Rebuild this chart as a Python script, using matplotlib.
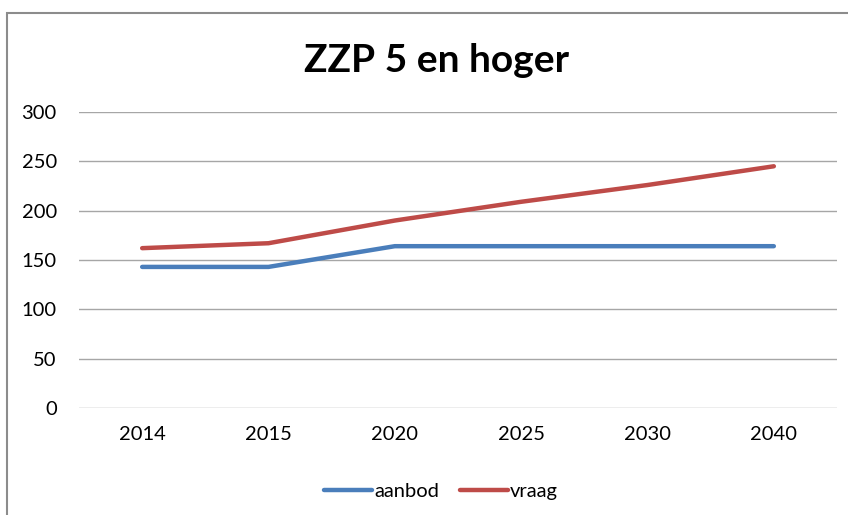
import matplotlib.pyplot as plt
from matplotlib.patches import Rectangle

# chart data
years = ['2014', '2015', '2020', '2025', '2030', '2040']
aanbod = [143, 143, 164, 164, 164, 164]
vraag = [162, 167, 190, 209, 226, 245]

plt.rcParams['font.family'] = ['Lato', 'DejaVu Sans']

fig = plt.figure(figsize=(8.48, 5.15), dpi=100)
W, H = 848, 515

# outer chart border (cut off at right and bottom like the screenshot)
fig.patches.append(Rectangle((7 / W, -0.1), 1.2, 1 - 13 / H + 0.1,
                             transform=fig.transFigure, fill=False,
                             edgecolor='#8c8c8c', linewidth=1.5))

# plot area in pixel coords: x 79..837, y 112..408
ax = fig.add_axes([79 / W, 1 - 408 / H, (837 - 79) / W, (408 - 112) / H])

x = range(len(years))
ax.plot(x, aanbod, color='#4a7ebb', linewidth=3.2, label='aanbod',
        solid_capstyle='round')
ax.plot(x, vraag, color='#be4b48', linewidth=3.2, label='vraag',
        solid_capstyle='round')

ax.set_xlim(-0.5, len(years) - 0.5)
ax.set_ylim(0, 300)
ax.set_yticks(range(0, 301, 50))
ax.set_xticks(list(x))
ax.set_xticklabels(years)
ax.grid(axis='y', color='#a6a6a6', linewidth=1)
ax.set_axisbelow(True)
for s in ax.spines.values():
    s.set_visible(False)
ax.tick_params(length=0, labelsize=14.5, colors='#000000')
ax.tick_params(axis='y', pad=16)
ax.tick_params(axis='x', pad=13)

fig.text(0.515, 1 - 60 / H, 'ZZP 5 en hoger', ha='center', va='center',
         fontsize=28, fontweight='bold')

fig.legend(loc='center', bbox_to_anchor=(441 / W, 1 - 491 / H), ncol=2,
           frameon=False, fontsize=14.5, handlelength=2.4, columnspacing=1.0,
           handletextpad=0.1)

fig.savefig('out.png', dpi=100)
